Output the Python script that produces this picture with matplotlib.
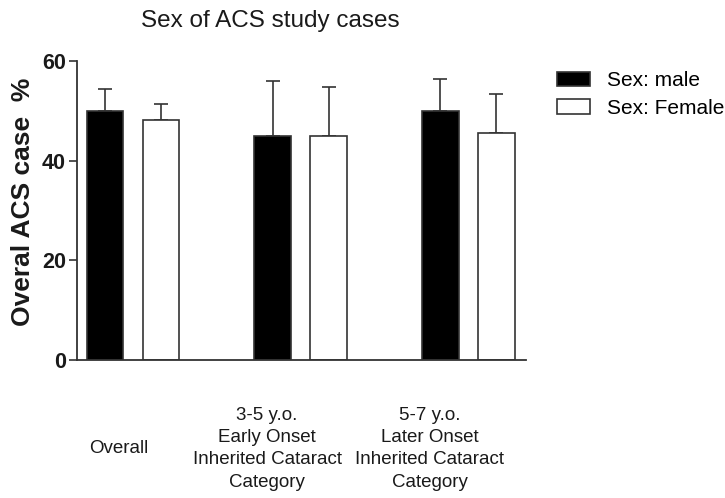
import numpy as np
import matplotlib
matplotlib.use('Agg')
import matplotlib.pyplot as plt
from matplotlib.patches import Patch

plt.rcParams['font.family'] = ['Liberation Sans', 'DejaVu Sans']

# ── Data ──────────────────────────────────────────────────────
groups = ['Overall',
          '3-5 y.o.\nEarly Onset\nInherited Cataract\nCategory',
          '5-7 y.o.\nLater Onset\nInherited Cataract\nCategory']
male       = [50.0, 44.9, 50.0]
male_err   = [4.3, 11.1, 6.4]
female     = [48.2, 45.0, 45.6]
female_err = [3.1, 9.7, 7.8]
series_names = ['Sex: male', 'Sex: Female']
yticks = [0, 20, 40, 60]

DARK = '#1a1a1a'
EDGE = '#333333'

fig = plt.figure(figsize=(7.25, 4.98), dpi=100)
ax = fig.add_axes([0.1062, 0.2771, 0.619, 0.6004])

x = np.arange(len(groups))
w = 0.22
off = 0.167

ax.bar(x - off, male, w, color='black', edgecolor=EDGE, linewidth=1.2, zorder=2)
ax.bar(x + off, female, w, color='white', edgecolor=EDGE, linewidth=1.2, zorder=2)

# upper error bars only
ax.errorbar(x - off, male, yerr=[np.zeros(3), male_err], fmt='none',
            ecolor=EDGE, elinewidth=1.2, capsize=4.7, capthick=1.2, zorder=1)
ax.errorbar(x + off, female, yerr=[np.zeros(3), female_err], fmt='none',
            ecolor=EDGE, elinewidth=1.2, capsize=4.7, capthick=1.2, zorder=1)

ax.set_xlim(-0.334, 2.343)
ax.set_ylim(0, 60)
ax.set_yticks(yticks)
ax.set_yticklabels([str(t) for t in yticks], fontsize=15.5, fontweight='bold', color=DARK)
ax.tick_params(axis='y', length=6, width=1.2, direction='out', pad=2, colors=EDGE,
               labelcolor=DARK)

# category labels sit left of the group centres, centred vertically
ax.set_xticks([-0.083, 0.80, 1.77])
ax.set_xticklabels(groups, fontsize=13.5, color=DARK, linespacing=1.4)
ax.tick_params(axis='x', length=0, pad=64)
for lbl in ax.get_xticklabels():
    lbl.set_verticalalignment('center')

for s in ['top', 'right']:
    ax.spines[s].set_visible(False)
for s in ['left', 'bottom']:
    ax.spines[s].set_linewidth(1.3)
    ax.spines[s].set_color(EDGE)

ax.set_ylabel('Overal ACS case  %', fontsize=19, fontweight='bold', color=DARK)
ax.yaxis.set_label_coords(-0.0935, 0.528)
fig.text(0.373, 0.958, 'Sex of ACS study cases', fontsize=17.5, color=DARK,
         ha='center', va='center')

handles = [Patch(facecolor='black', edgecolor=EDGE, linewidth=1.2),
           Patch(facecolor='white', edgecolor=EDGE, linewidth=1.2)]
fig.legend(handles, series_names, loc='upper left',
           bbox_to_anchor=(557 / 725, 1 - 71 / 498), frameon=False,
           fontsize=15, handlelength=1.6, handleheight=0.67,
           handletextpad=0.82, labelspacing=0.42, borderpad=0, borderaxespad=0)

fig.savefig('out.png', dpi=100, facecolor='white')
